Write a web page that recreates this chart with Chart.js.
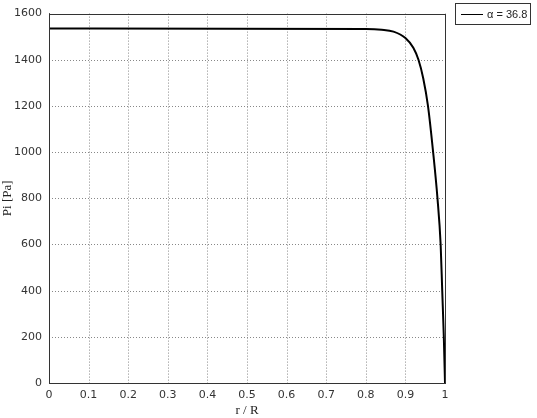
<!DOCTYPE html>
<html><head><meta charset="utf-8">
<script src="https://cdn.jsdelivr.net/npm/chart.js@4"></script>
<style>html,body{margin:0;padding:0;background:#fff}#wrap{width:537px;height:418px;position:relative}</style>
</head><body><div id="wrap"><canvas id="c" width="537" height="418"></canvas></div>
<script>
const seriesLabel = 'α = 36.8';
const rValues = [0, 0.8, 0.84, 0.87, 0.9, 0.92, 0.933, 0.945, 0.957, 0.97, 0.981, 0.989, 0.993, 0.997, 1];
const pValues = [1535, 1533, 1530, 1522, 1494, 1452, 1400, 1320, 1200, 1000, 800, 600, 400, 200, 0];
const xTicks = [0,0.1,0.2,0.3,0.4,0.5,0.6,0.7,0.8,0.9,1];
const yTicks = [0,200,400,600,800,1000,1200,1400,1600];
const xTitle = 'r / R';
const yTitle = 'Pi [Pa]';

const points = rValues.map((r,i)=>({x:r,y:pValues[i]}));

const boxPlugin = {
  id:'box',
  afterDraw(chart){
    const {ctx, chartArea:a} = chart;
    ctx.save();
    ctx.strokeStyle='#333'; ctx.lineWidth=1;
    ctx.strokeRect(Math.round(a.left)+0.5, Math.round(a.top)+0.5, Math.round(a.right-a.left), Math.round(a.bottom-a.top));
    const lx=455.5, ly=3.5, lw=75, lh=21;
    ctx.fillStyle='#fff'; ctx.fillRect(lx,ly,lw,lh);
    ctx.strokeRect(lx,ly,lw,lh);
    ctx.strokeStyle='#000'; ctx.lineWidth=1;
    ctx.beginPath(); ctx.moveTo(461,14.5); ctx.lineTo(483,14.5); ctx.stroke();
    ctx.fillStyle='#222'; ctx.font='11px "Liberation Sans"'; ctx.textBaseline='middle'; ctx.textAlign='left';
    ctx.fillText(chart.data.datasets[0].label, 487, 14.5);
    ctx.restore();
  }
};

new Chart(document.getElementById('c'),{
  type:'line',
  data:{datasets:[{label:seriesLabel,data:points,borderColor:'#000',borderWidth:2,pointRadius:0,fill:false,cubicInterpolationMode:'monotone'}]},
  options:{
    responsive:false,animation:false,
    layout:{padding:{left:0,right:92,top:5,bottom:0}},
    plugins:{legend:{display:false},tooltip:{enabled:false}},
    scales:{
      x:{type:'linear',min:0,max:1,
        afterBuildTicks(s){s.ticks=xTicks.map(v=>({value:v}));},
        afterFit(s){s.height=35;},
        ticks:{color:'#333',font:{family:'DejaVu Sans',size:11},padding:6,maxRotation:0,callback:v=>String(v)},
        grid:{display:false,drawTicks:false},
        border:{display:true,color:'#333'},
        title:{display:true,text:xTitle,color:'#222',font:{family:'Liberation Serif',size:13},padding:{top:0,bottom:0}}
      },
      y:{type:'linear',min:0,max:1600,
        afterBuildTicks(s){s.ticks=yTicks.map(v=>({value:v}));},
        afterFit(s){s.width=49;},
        ticks:{color:'#333',font:{family:'DejaVu Sans',size:11},padding:7,callback:v=>String(v)},
        grid:{display:false,drawTicks:false},
        border:{display:true,color:'#333'},
        title:{display:true,text:yTitle,color:'#222',font:{family:'Liberation Serif',size:13},padding:{top:0,bottom:0}}
      }
    }
  },
  plugins:[boxPlugin,{
    id:'dashgrid',
    beforeDatasetsDraw(chart){
      const {ctx, chartArea:a, scales} = chart;
      ctx.save(); ctx.strokeStyle='#888'; ctx.lineWidth=1; ctx.setLineDash([1,2]);
      xTicks.forEach(v=>{const x=Math.round(scales.x.getPixelForValue(v))+0.5; ctx.beginPath(); ctx.moveTo(x,a.top); ctx.lineTo(x,a.bottom); ctx.stroke();});
      yTicks.forEach(v=>{const y=Math.round(scales.y.getPixelForValue(v))+0.5; ctx.beginPath(); ctx.moveTo(a.left,y); ctx.lineTo(a.right,y); ctx.stroke();});
      ctx.restore();
    }
  }]
});
</script></body></html>
